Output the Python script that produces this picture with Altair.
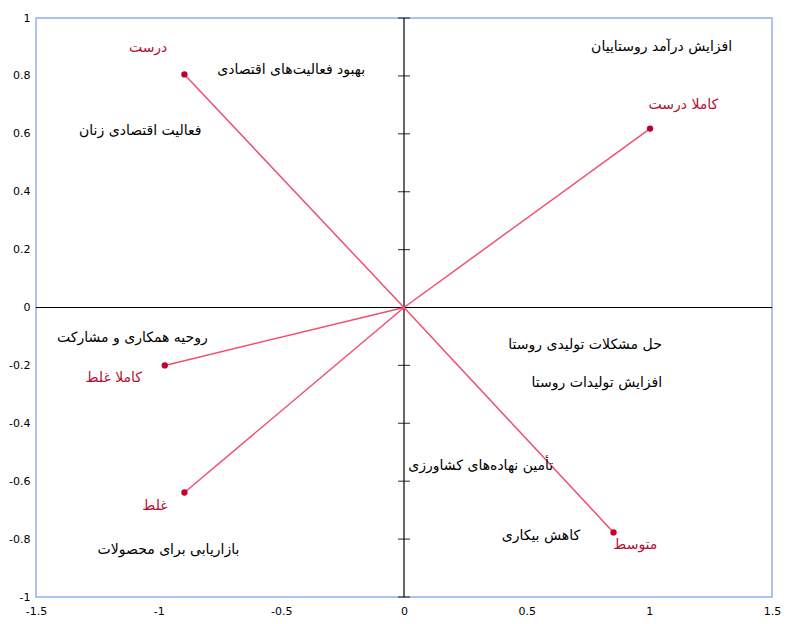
import altair as alt
import pandas as pd

# Response categories (red points, joined to origin)
cat_names = ["درست", "کاملا درست", "کاملا غلط", "غلط", "متوسط"]
cat_x = [-0.895, 1.003, -0.975, -0.895, 0.854]
cat_y = [0.805, 0.618, -0.200, -0.639, -0.777]
cat_lx = [-1.043, 1.139, -1.183, -1.015, 0.943]
cat_ly = [0.895, 0.700, -0.242, -0.684, -0.822]

# Variable labels (black text)
var_names = ["بهبود فعالیت‌های اقتصادی", "فعالیت اقتصادی زنان", "افزایش درآمد روستاییان",
             "روحیه همکاری و مشارکت", "بازاریابی برای محصولات", "حل مشکلات تولیدی روستا",
             "افزایش تولیدات روستا", "تأمین نهاده‌های کشاورزی", "کاهش بیکاری"]
var_x = [-0.46, -1.075, 1.05, -1.107, -0.96, 0.738, 0.786, 0.313, 0.558]
var_y = [0.82, 0.61, 0.90, -0.107, -0.836, -0.128, -0.262, -0.549, -0.791]

x_ticks = [-1.5, -1, -0.5, 0, 0.5, 1, 1.5]
y_ticks = [-1, -0.8, -0.6, -0.4, -0.2, 0, 0.2, 0.4, 0.6, 0.8, 1]

cats = pd.DataFrame({"name": cat_names, "x": cat_x, "y": cat_y,
                     "lx": cat_lx, "ly": cat_ly, "x0": 0.0, "y0": 0.0})
vars_ = pd.DataFrame({"name": var_names, "x": var_x, "y": var_y})
yt = pd.DataFrame({"y": y_ticks, "x": 0.0})

xs = alt.Scale(domain=[-1.5, 1.5], nice=False, zero=False)
ys = alt.Scale(domain=[-1, 1], nice=False, zero=False)

xaxis = alt.Axis(values=x_ticks, grid=False, domain=False, ticks=False, labelFontSize=11,
                 labelColor="#000", labelPadding=8, title=None, labelFont="DejaVu Sans",
                 labelExpr="'' + datum.value", labelFlush=False)
yaxis = alt.Axis(values=y_ticks, grid=False, domain=False, ticks=False, labelFontSize=11,
                 labelColor="#000", labelPadding=6, title=None, labelFont="DejaVu Sans",
                 labelExpr="'' + datum.value", labelFlush=False)

base_x = alt.X("x:Q", scale=xs, axis=xaxis)
base_y = alt.Y("y:Q", scale=ys, axis=yaxis)

hline = alt.Chart(pd.DataFrame({"y": [0]})).mark_rule(color="#000", strokeWidth=1.2).encode(
    y=alt.Y("y:Q", scale=ys, axis=yaxis))
vline = alt.Chart(pd.DataFrame({"x": [0]})).mark_rule(color="#000", strokeWidth=1.2).encode(
    x=alt.X("x:Q", scale=xs, axis=xaxis))
ticks = alt.Chart(yt).mark_tick(color="#000", orient="horizontal", size=12, thickness=1.2).encode(
    x=alt.X("x:Q", scale=xs, axis=xaxis), y=alt.Y("y:Q", scale=ys, axis=yaxis))

lines = alt.Chart(cats).mark_rule(color="#F0506E", strokeWidth=1.5).encode(
    x=base_x, y=base_y, x2="x0:Q", y2="y0:Q")
pts = alt.Chart(cats).mark_point(filled=True, color="#C0002A", size=40, opacity=1).encode(
    x=base_x, y=base_y)
cat_text = alt.Chart(cats).mark_text(color="#B01030", fontSize=14, font="DejaVu Sans").encode(
    x=alt.X("lx:Q", scale=xs, axis=xaxis), y=alt.Y("ly:Q", scale=ys, axis=yaxis), text="name:N")
var_text = alt.Chart(vars_).mark_text(color="#000", fontSize=14, font="DejaVu Sans").encode(
    x=base_x, y=base_y, text="name:N")

chart = alt.layer(hline, vline, ticks, lines, pts, cat_text, var_text).properties(
    width=736, height=579,
    autosize=alt.AutoSizeParams(type="none"),
    padding={"left": 28, "top": 10, "right": 10, "bottom": 20},
).configure_view(stroke="#8FB0F0", strokeWidth=1.5)

chart.save("out.html", embed_options={"renderer": "svg", "actions": False})
